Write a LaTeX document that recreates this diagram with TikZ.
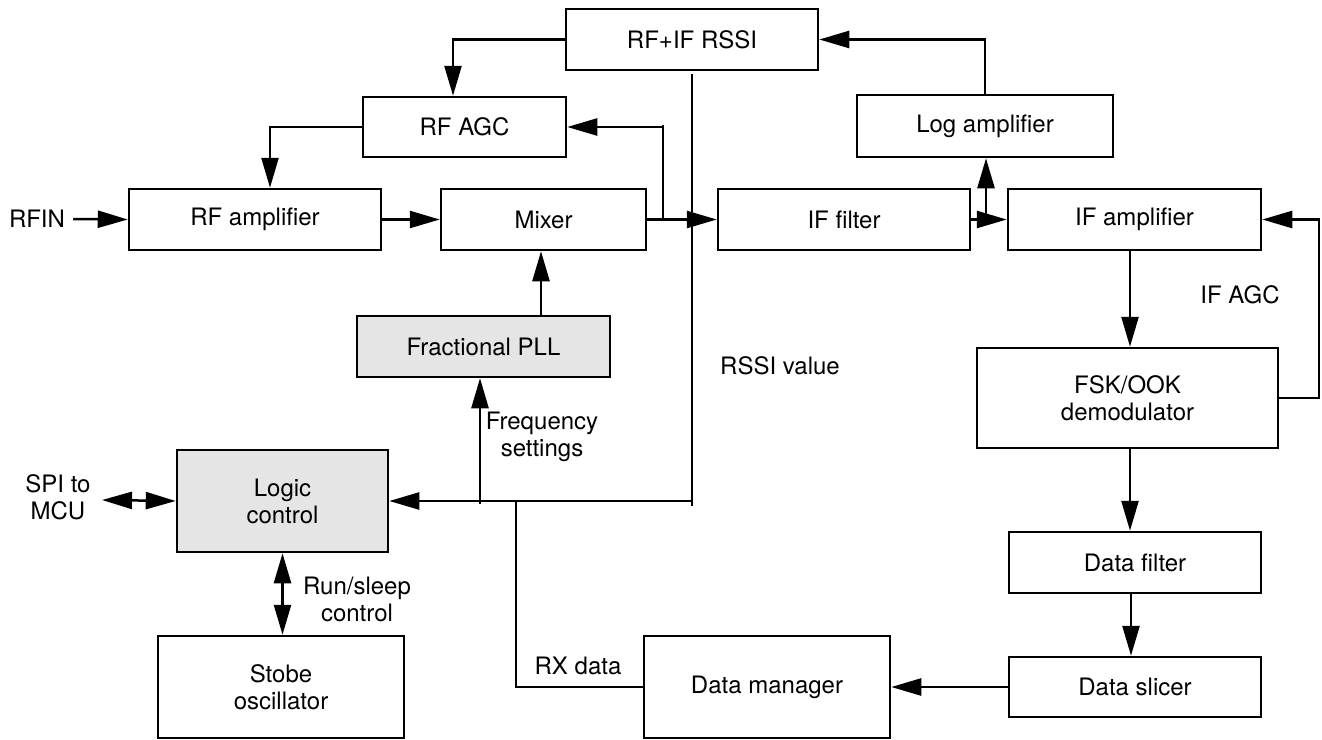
\documentclass[tikz,border=0pt]{standalone}
\usepackage{fontspec}
\setmainfont{TeX Gyre Heros}
\usetikzlibrary{arrows.meta}
\begin{document}
\begin{tikzpicture}[x=0.5pt,y=-0.5pt,line width=1.25pt,
  txt/.style={font=\fontsize{12}{13.5}\selectfont},
  box/.style={draw,inner sep=0pt,align=center,txt},
  shaded/.style={box,fill=black!10},
  lbl/.style={align=center,inner sep=0pt,txt},
  arr/.style={-{Triangle[length=15pt,width=8.5pt]}},
  dbl/.style={{Triangle[length=15pt,width=8.5pt]}-{Triangle[length=15pt,width=8.5pt]}}]
\useasboundingbox (0,0) rectangle (1322,739);

% blocks
\node[box,minimum width=126pt,minimum height=30.5pt] (rssi) at (692,39.5) {RF+IF RSSI};
\node[box,minimum width=101.5pt,minimum height=30pt] (rfagc) at (464.5,127) {RF AGC};
\node[box,minimum width=128pt,minimum height=31pt] (logamp) at (985,126) {Log amplifier};
\node[box,minimum width=126pt,minimum height=30.5pt] (rfamp) at (255,219.5) {RF amplifier};
\node[box,minimum width=102.5pt,minimum height=30.5pt] (mixer) at (543.5,219.5) {Mixer};
\node[box,minimum width=126pt,minimum height=30.5pt] (iff) at (844,219.5) {IF filter};
\node[box,minimum width=126.5pt,minimum height=30.5pt] (ifamp) at (1134.5,219.5) {IF amplifier};
\node[shaded,minimum width=126.5pt,minimum height=30.5pt] (pll) at (483.5,346.5) {Fractional PLL};
\node[box,minimum width=150.5pt,minimum height=50pt] (fsk) at (1127.5,398) {FSK/OOK\\demodulator};
\node[shaded,minimum width=105.5pt,minimum height=51pt] (logic) at (282.5,501) {Logic\\control};
\node[box,minimum width=126pt,minimum height=30.5pt] (dfilt) at (1135,562.5) {Data filter};
\node[box,minimum width=123pt,minimum height=51pt] (stobe) at (281,687) {Stobe\\oscillator};
\node[box,minimum width=123pt,minimum height=51pt] (dman) at (767,687) {Data manager};
\node[box,minimum width=126pt,minimum height=30pt] (dslice) at (1135,687) {Data slicer};

% free labels
\node[lbl,inner xsep=3.5pt] (rfin) at (37,219) {RFIN};
\node[lbl] (spi) at (58,497) {SPI to\\MCU};
\node[lbl] (rssival) at (780,366) {RSSI value};
\node[lbl] (freq) at (542,437) {Frequency\\settings};
\node[lbl] (runsleep) at (357,599) {Run/sleep\\control};
\node[lbl] (rxdata) at (578,666) {RX data};
\node[lbl] (ifagc) at (1240,295) {IF AGC};

% routing points
\coordinate (aj) at (663,219);
\coordinate (at) at (663,125);
\coordinate (rc) at (453,0);
\coordinate (ac) at (270,0);
\coordinate (pm) at (541,0);
\coordinate (rv1) at (692,74);
\coordinate (rv2) at (692,506);
\coordinate (fq) at (480,504);
\coordinate (rx) at (516,501);
\coordinate (spiend) at (102,500);
\coordinate (lj) at (986,220);
\coordinate (dcol) at (1130,0);
\coordinate (scol) at (1131,0);
\coordinate (agc) at (1319,0);

% RF chain
\draw[arr] (rfin.east) -- (rfamp.west);
\draw[arr] (rfamp.east) -- (mixer.west);
\draw[arr] (mixer.east) -- (iff.west);
\draw (aj) -- (at);
\draw[arr] (at |- rfagc.east) -- (rfagc.east);
\draw[arr] (rssi.west) -| (rfagc.north -| rc);
\draw[arr] (rfagc.west) -| (rfamp.north -| ac);
\draw[arr] (pll.north -| pm) -- (mixer.south -| pm);

% IF chain
\draw[arr] (iff.east) -- (ifamp.west);
\draw[arr] (lj) -- (lj |- logamp.south);
\draw[arr] (logamp.north) |- (rssi.east);
\draw[arr] (ifamp.south -| dcol) -- (fsk.north -| dcol);
\draw[arr] (fsk.east) -- (fsk.east -| agc) -- (ifamp.east -| agc) -- (ifamp.east);
\draw[arr] (fsk.south -| dcol) -- (dfilt.north -| dcol);
\draw[arr] (dfilt.south -| scol) -- (dslice.north -| scol);
\draw[arr] (dslice.west) -- (dslice.west -| dman.east);

% RSSI value, frequency settings and RX data
\draw (rv1) -- (rv2);
\draw[arr] (rv2 |- logic.east) -- (logic.east);
\draw[arr] (fq) -- (fq |- pll.south);
\draw (rx) |- (dman.west);

% control links
\draw[dbl] (spiend) -- (logic.west);
\draw[dbl] (logic.south) -- (stobe.north -| logic.south);
\end{tikzpicture}
\end{document}
